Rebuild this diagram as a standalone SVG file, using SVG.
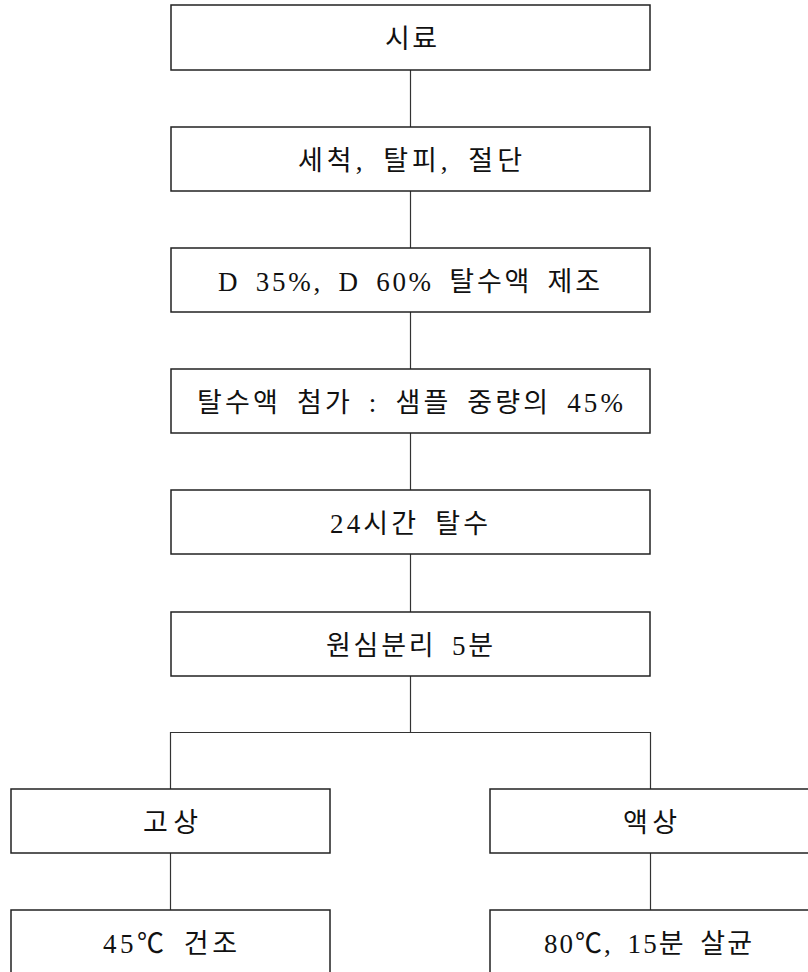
<svg xmlns="http://www.w3.org/2000/svg" width="808" height="972" viewBox="0 0 808 972">
<style>
.box{fill:#fff;stroke:#222;stroke-width:1.5}
.ln{stroke:#333;stroke-width:1.2;fill:none}
text{font-family:"Liberation Serif","Noto Sans CJK KR",serif;font-size:27px;word-spacing:6px;fill:#111;text-anchor:middle}
</style>
<rect width="808" height="972" fill="#fff"/>
<g id="connectors">
<line class="ln" x1="410.5" y1="70" x2="410.5" y2="127"/>
<line class="ln" x1="410.5" y1="191" x2="410.5" y2="248"/>
<line class="ln" x1="410.5" y1="312" x2="410.5" y2="369"/>
<line class="ln" x1="410.5" y1="433" x2="410.5" y2="490"/>
<line class="ln" x1="410.5" y1="554" x2="410.5" y2="612"/>
<line class="ln" x1="410.5" y1="676" x2="410.5" y2="732.5"/>
<polyline class="ln" points="170.5,789 170.5,732.5 650.5,732.5 650.5,789"/>
<line class="ln" x1="170.5" y1="853" x2="170.5" y2="910"/>
<line class="ln" x1="650.5" y1="853" x2="650.5" y2="910"/>
</g>
<g id="n1"><rect class="box" x="171" y="5" width="479" height="65"/><text x="411" y="48" textLength="52" lengthAdjust="spacing">시료</text></g>
<g id="n2"><rect class="box" x="171" y="127" width="479" height="64"/><text x="410" y="170" textLength="224" lengthAdjust="spacing">세척, 탈피, 절단</text></g>
<g id="n3"><rect class="box" x="171" y="248" width="479" height="64"/><text x="409" y="291" textLength="382" lengthAdjust="spacing">D 35%, D 60% 탈수액 제조</text></g>
<g id="n4"><rect class="box" x="171" y="369" width="479" height="64"/><text x="410" y="412" textLength="426" lengthAdjust="spacing">탈수액 첨가 : 샘플 중량의 45%</text></g>
<g id="n5"><rect class="box" x="171" y="490" width="479" height="64"/><text x="409" y="533" textLength="158" lengthAdjust="spacing">24시간 탈수</text></g>
<g id="n6"><rect class="box" x="171" y="612" width="479" height="64"/><text x="409.5" y="655" textLength="167" lengthAdjust="spacing">원심분리 5분</text></g>
<g id="n7"><rect class="box" x="11" y="789" width="319" height="64"/><text x="170.5" y="832" textLength="55" lengthAdjust="spacing">고상</text></g>
<g id="n8"><rect class="box" x="490" y="789" width="330" height="64"/><text x="650" y="832" textLength="54" lengthAdjust="spacing">액상</text></g>
<g id="n9"><rect class="box" x="11" y="910" width="319" height="80"/><text x="170" y="953" textLength="134" lengthAdjust="spacing">45℃ 건조</text></g>
<g id="n10"><rect class="box" x="490" y="910" width="330" height="80"/><text x="648" y="953" textLength="208" lengthAdjust="spacing">80℃, 15분 살균</text></g>
</svg>
